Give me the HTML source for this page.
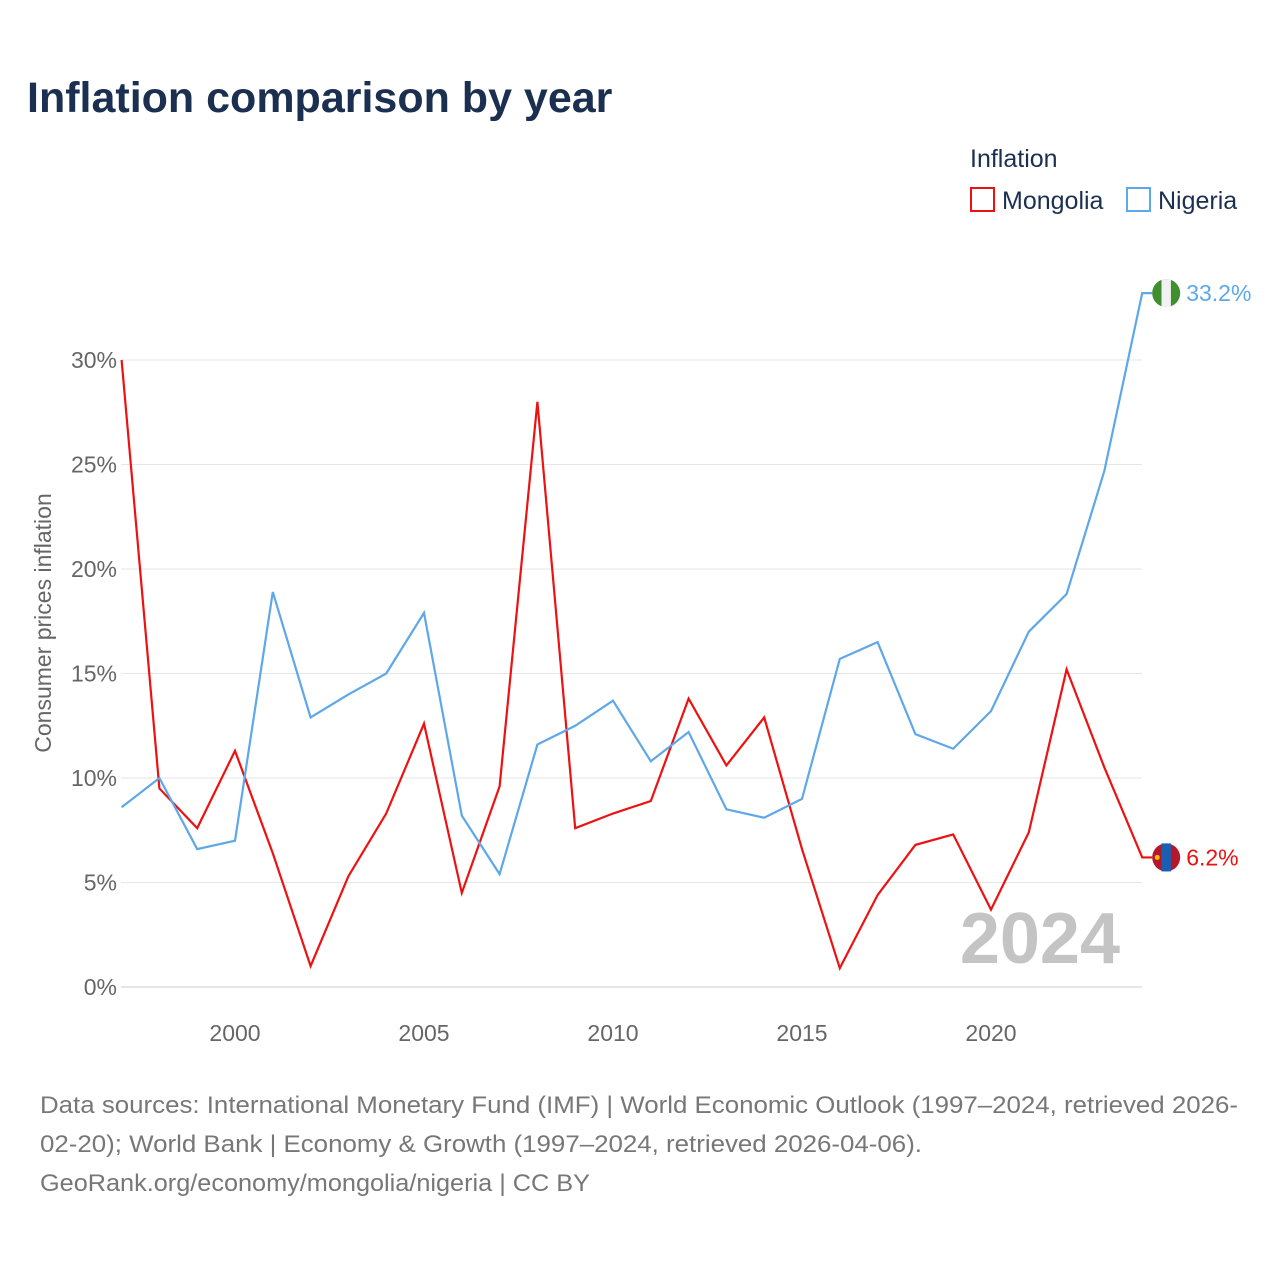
<!DOCTYPE html>
<html><head><meta charset="utf-8"><style>
body{margin:0;background:#fff;font-family:"Liberation Sans",sans-serif;}
svg text{font-family:"Liberation Sans",sans-serif;}
</style></head><body>
<svg id="chart" width="1280" height="1280" xmlns="http://www.w3.org/2000/svg">
<rect width="1280" height="1280" fill="#fff"/>
<text x="27" y="112" font-size="43" font-weight="bold" fill="#1b3050">Inflation comparison by year</text>
<text x="970" y="167" font-size="25" fill="#1b3050">Inflation</text>
<g><rect x="971" y="188" width="23" height="23" fill="none" stroke="#ee1111" stroke-width="2"/><text x="1002" y="209" font-size="25" fill="#1b3050">Mongolia</text></g>
<g><rect x="1127" y="188" width="23" height="23" fill="none" stroke="#5ea7e8" stroke-width="2"/><text x="1158" y="209" font-size="25" fill="#1b3050">Nigeria</text></g>
<g id="grid"></g><g id="axes"></g><g id="series"></g>
<text x="1120" y="963" font-size="72" font-weight="bold" fill="#c4c4c4" text-anchor="end">2024</text>
<text transform="translate(51,623) rotate(-90)" font-size="23" fill="#666" text-anchor="middle">Consumer prices inflation</text>
<g font-size="24" fill="#777">
<text x="40" y="1113" textLength="1198" lengthAdjust="spacingAndGlyphs">Data sources: International Monetary Fund (IMF) | World Economic Outlook (1997–2024, retrieved 2026-</text>
<text x="40" y="1152" textLength="882" lengthAdjust="spacingAndGlyphs">02-20); World Bank | Economy &amp; Growth (1997–2024, retrieved 2026-04-06).</text>
<text x="40" y="1191" textLength="550" lengthAdjust="spacingAndGlyphs">GeoRank.org/economy/mongolia/nigeria | CC BY</text>
</g>
</svg>
<script>
const years=[1997,1998,1999,2000,2001,2002,2003,2004,2005,2006,2007,2008,2009,2010,2011,2012,2013,2014,2015,2016,2017,2018,2019,2020,2021,2022,2023,2024];
const mongolia=[30.0,9.5,7.6,11.3,6.4,1.0,5.3,8.3,12.6,4.5,9.6,28.0,7.6,8.3,8.9,13.8,10.6,12.9,6.6,0.9,4.4,6.8,7.3,3.7,7.4,15.2,10.5,6.2];
const nigeria=[8.6,10.0,6.6,7.0,18.9,12.9,14.0,15.0,17.9,8.2,5.4,11.6,12.5,13.7,10.8,12.2,8.5,8.1,9.0,15.7,16.5,12.1,11.4,13.2,17.0,18.8,24.7,33.2];
const yTicks=[0,5,10,15,20,25,30];
const xTicks=[2000,2005,2010,2015,2020];
const NS="http://www.w3.org/2000/svg";
const x=v=>121.6+(v-1997)*37.8;
const y=v=>987-v*20.9;
function mk(t,a,p){const e=document.createElementNS(NS,t);for(const k in a)e.setAttribute(k,a[k]);p.appendChild(e);return e;}
const grid=document.getElementById('grid'),axes=document.getElementById('axes'),ser=document.getElementById('series');
yTicks.forEach(t=>{
 const l=mk('line',{x1:121,x2:1142,y1:y(t),y2:y(t),stroke:t==0?'#ccc':'#e6e6e6','stroke-width':1},grid);
 
 
 const tx=mk('text',{x:117,y:y(t)+8,'font-size':23,fill:'#666','text-anchor':'end'},axes);
 tx.textContent=t+'%';
 
 
});
xTicks.forEach(t=>{
 const tx=mk('text',{x:x(t),y:1041,'font-size':23,fill:'#666','text-anchor':'middle'},axes);
 tx.textContent=t;
 
 
});
function draw(vals,col,name,flag){
 const pts=vals.map((v,i)=>x(years[i])+','+y(v)).join(' ');
 const last=vals[vals.length-1];
 const pl=mk('polyline',{points:pts+' '+(x(2024)+10)+','+y(last),fill:'none',stroke:col,'stroke-width':2.2,'stroke-linejoin':'miter'},ser);
 
 
 const g=mk('g',{},ser);
 
 
 const cx=x(2024)+24,cy=y(last);
 if(flag=='ng'){
  mk('circle',{cx:cx,cy:cy,r:14,fill:'#3f8f2e'},g);
  mk('rect',{x:cx-4.7,y:cy-14,width:9.4,height:28,fill:'#f2f2f2'},g);
 }else{
  mk('circle',{cx:cx,cy:cy,r:14,fill:'#b5172b'},g);
  mk('rect',{x:cx-4.7,y:cy-14,width:9.4,height:28,fill:'#1a5fb4'},g);
  mk('circle',{cx:cx-9,cy:cy,r:2.5,fill:'#f2c200'},g);
 }
 const tx=mk('text',{x:cx+20,y:cy+8,'font-size':23,fill:col},ser);
 tx.textContent=last.toFixed(1)+'%';
 
 
}
draw(mongolia,'#ee1111','mongolia','mn');
draw(nigeria,'#5ea7e8','nigeria','ng');
</script>
</body></html>
